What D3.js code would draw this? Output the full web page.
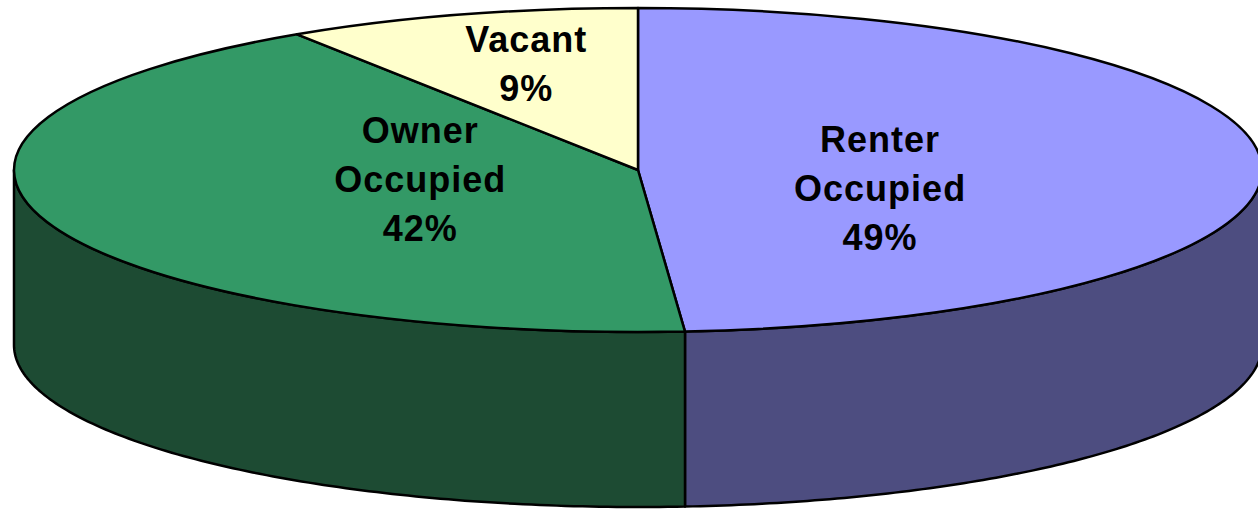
<!DOCTYPE html>
<meta charset="utf-8">
<style>
body { margin: 0; background: #fff; }
.edge { stroke: #000; stroke-width: 2.5px; stroke-linejoin: round; }
.lbl { font-family: "Liberation Sans", Arial, sans-serif; font-weight: bold; font-size: 36px; letter-spacing: 1px; fill: #000; }
</style>
<script src="https://cdn.jsdelivr.net/npm/d3@7"></script>
<body>
<script>

// data
var categories = ["Renter Occupied", "Owner Occupied", "Vacant"];
var values = [48.8, 42.0, 9.2];
var topColors = ["#9999FF", "#339966", "#FFFFCC"];
var sideColors = ["#4D4D80", "#1D4B33", "#808066"];

// layout
var width = 1258, height = 510;
var cx = 638, cy = 170, rx = 624, ry = 162, depth = 175;
// label anchors, in units of the ellipse radii
var labelU = [0.388, -0.349, -0.179];
var labelV = [0.11, 0.055, -0.66];
var lineH = 49;

var svg = d3.select("body").append("svg")
    .attr("width", width)
    .attr("height", height);

var pie = d3.pie().sort(null).value(function(d) { return d; });
var arcs = pie(values);

function ell(a, dy) {
  return [cx + rx * Math.sin(a), cy - ry * Math.cos(a) + (dy || 0)];
}

var line = d3.line();

// side walls (front half only, pi/2 .. 3pi/2)
arcs.forEach(function(d, i) {
  var s = Math.max(d.startAngle, Math.PI / 2),
      e = Math.min(d.endAngle, 3 * Math.PI / 2);
  if (s >= e) return;
  var n = 120;
  var ang = d3.range(n + 1).map(function(k) { return s + (e - s) * k / n; });
  var pts = ang.map(function(a) { return ell(a); })
    .concat(ang.slice().reverse().map(function(a) { return ell(a, depth); }));
  svg.append("path")
    .attr("class", "edge")
    .attr("d", line(pts) + "Z")
    .attr("fill", sideColors[i]);
});

// top face
var arc = d3.arc().innerRadius(0).outerRadius(rx);
svg.append("g")
    .attr("transform", "translate(" + cx + "," + cy + ") scale(1," + (ry / rx) + ")")
  .selectAll("path")
  .data(arcs)
  .enter().append("path")
    .attr("class", "edge")
    .attr("vector-effect", "non-scaling-stroke")
    .attr("d", arc)
    .attr("fill", function(d, i) { return topColors[i]; });

// labels
arcs.forEach(function(d, i) {
  var lines = categories[i].split(" ").concat([Math.round(values[i]) + "%"]);
  var x = cx + rx * labelU[i],
      y = cy + ry * labelV[i];
  var t = svg.append("text")
    .attr("class", "lbl")
    .attr("text-anchor", "middle");
  lines.forEach(function(s, k) {
    t.append("tspan")
      .attr("x", x)
      .attr("y", y + (k - (lines.length - 1) / 2) * lineH + 13)
      .text(s);
  });
});

</script>
</body>
